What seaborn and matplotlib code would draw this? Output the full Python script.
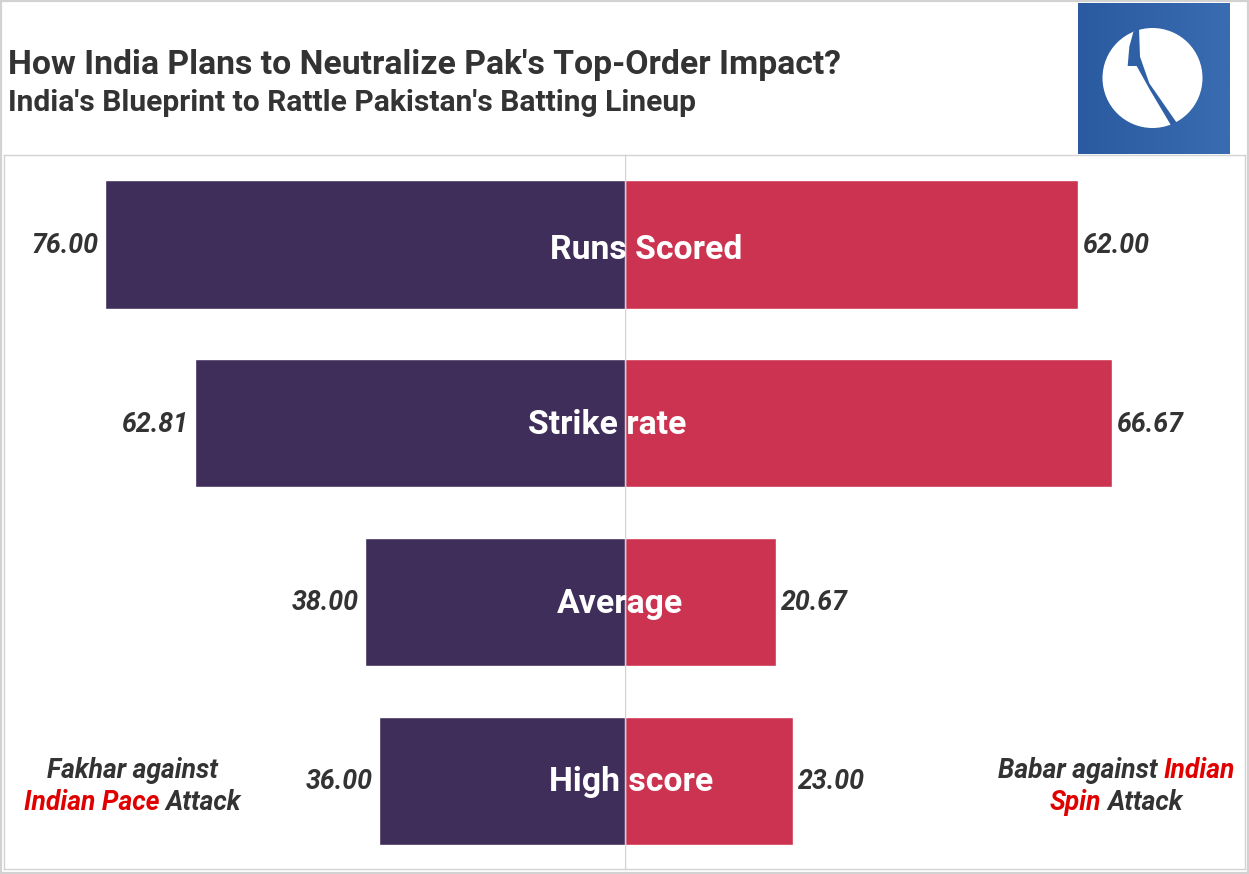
import numpy as np
import pandas as pd
import matplotlib
matplotlib.use("Agg")
import matplotlib.pyplot as plt
from matplotlib.patches import Circle, Polygon, Rectangle
import seaborn as sns

categories = ["Runs Scored", "Strike rate", "Average", "High score"]
fakhar_values = [76.00, 62.81, 38.00, 36.00]
babar_values = [62.00, 66.67, 20.67, 23.00]
title_text = "How India Plans to Neutralize Pak's Top-Order Impact?"
subtitle_text = "India's Blueprint to Rattle Pakistan's Batting Lineup"

W, H = 1249, 874
DARK = "#333333"
PURPLE = "#3F2E5A"
CRIMSON = "#CC3350"
RED = "#E00000"
GREY = "#D2D2D2"

sns.set_theme(style="white")
plt.rcParams["font.family"] = ["Roboto", "DejaVu Sans"]

fig = plt.figure(figsize=(W / 100, H / 100), dpi=100, facecolor="white")


def box(x0, y0, x1, y1):
    return [x0 / W, 1 - y1 / H, (x1 - x0) / W, (y1 - y0) / H]


def fx(x):
    return x / W


def fy(y):
    return 1 - y / H


df = pd.DataFrame({"cat": categories, "fakhar": fakhar_values, "babar": babar_values})

axL = fig.add_axes(box(4.0, 155.0, 625.0, 869.0))
axR = fig.add_axes(box(625.0, 155.0, 1244.5, 869.0))
sns.barplot(data=df, y="cat", x="fakhar", color=PURPLE, saturation=1, width=0.718,
            orient="h", ax=axL)
sns.barplot(data=df, y="cat", x="babar", color=CRIMSON, saturation=1, width=0.718,
            orient="h", ax=axR)
axL.set_xlim(621 / 6.84, 0)
axR.set_xlim(0, 619.5 / 7.30)
for ax in (axL, axR):
    ax.set_ylim(3.492, -0.5)
    ax.set_xlabel("")
    ax.set_ylabel("")
    ax.set_xticks([])
    ax.set_yticks([])
    for s in ax.spines.values():
        s.set_color(GREY)
        s.set_linewidth(1.0)
axL.spines["right"].set_visible(False)
axR.spines["left"].set_visible(False)
axR.axvline(0, color=GREY, lw=1.0, zorder=5)

VAL = dict(fontsize=19.3, fontweight="bold", fontstyle="italic", color=DARK, va="center")
for i, (a, b) in enumerate(zip(fakhar_values, babar_values)):
    axL.annotate(f"{a:.2f}", (a, i), xytext=(-4.5, -0.6), textcoords="offset points", ha="right", **VAL)
    axR.annotate(f"{b:.2f}", (b, i), xytext=(3.8, -0.6), textcoords="offset points", ha="left", **VAL)

cat_centers = [646, 607, 620, 631]
cat_y = [250, 424.5, 604, 782.5]
for name, cx, cy in zip(categories, cat_centers, cat_y):
    fig.text(fx(cx), fy(cy), name, color="white", fontsize=24.3, fontweight="bold",
             ha="center", va="center", zorder=10)

fig.text(fx(8), fy(65), title_text, fontsize=24.35, fontweight="bold", color=DARK, ha="left", va="center")
fig.text(fx(8), fy(103), subtitle_text, fontsize=21.6, fontweight="bold", color=DARK, ha="left", va="center")

renderer = fig.canvas.get_renderer()


def runs(parts, cx, y):
    """Draw coloured runs on one line, centred on cx (pixels)."""
    style = dict(fontsize=19.1, fontweight="bold", fontstyle="italic", va="center", ha="left")
    pieces = [fig.text(0, fy(y), t, color=c, **style) for t, c in parts]
    space = 5.9
    widths = [p.get_window_extent(renderer).width for p in pieces]
    total = sum(widths) + space * (len(pieces) - 1)
    x = cx - total / 2
    for p, w in zip(pieces, widths):
        p.set_x(fx(x))
        x += w + space


runs([("Fakhar against", DARK)], 132, 771)
runs([("Indian Pace", RED), ("Attack", DARK)], 132, 803)
runs([("Babar against", DARK), ("Indian", RED)], 1116, 771)
runs([("Spin", RED), ("Attack", DARK)], 1116, 803)

# Logo block
logo = fig.add_axes(box(1078, 3, 1229, 154))
logo.imshow(np.linspace(0, 1, 64).reshape(1, -1), extent=(1078, 1229, 154, 3), aspect="auto",
            cmap=matplotlib.colors.LinearSegmentedColormap.from_list("b", ["#2A5A9F", "#3A6CB2"]))
logo.add_patch(Circle((1152.5, 78), 50, color="white", lw=0))
notch = [(400, 96), (417, 84), (420, 170), (448, 250), (530, 368), (513, 376), (450, 270),
         (410, 198), (383, 198), (388, 140)]
logo.add_patch(Polygon([(1000 + a / 3, b / 3) for a, b in notch], color="#2F60A6", lw=0))
logo.set_xlim(1078, 1229)
logo.set_ylim(154, 3)
logo.axis("off")

# Outer frame
fig.add_artist(Rectangle((1 / W, 1 / H), (W - 2) / W, (H - 2) / H, transform=fig.transFigure,
                         fill=False, edgecolor=GREY, lw=1.6))

fig.savefig("out.png", dpi=100, facecolor="white")
